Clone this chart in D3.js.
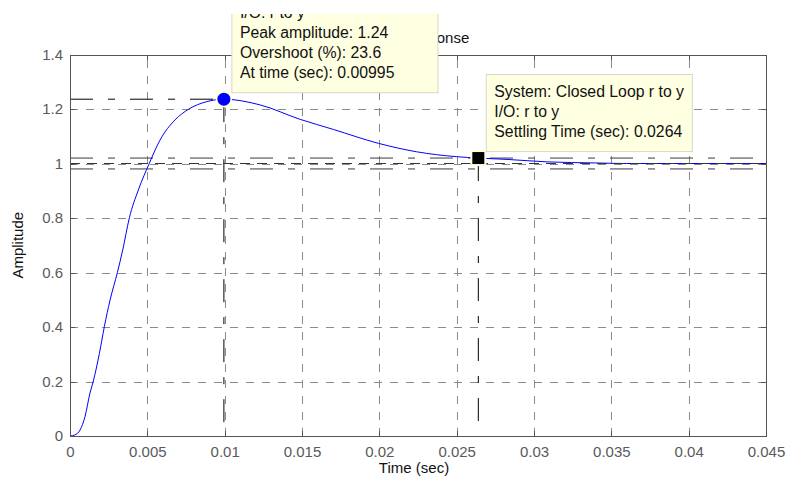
<!DOCTYPE html>
<html>
<head>
<meta charset="utf-8">
<script src="https://cdn.jsdelivr.net/npm/d3@7"></script>
<style>
  html, body { margin: 0; padding: 0; background: #fff; }
  svg { display: block; font-family: "Liberation Sans", Arial, Helvetica, sans-serif; }
</style>
</head>
<body>
<svg id="chart" width="789" height="478"></svg>
<script>
// Axis ticks
const timeTicks = [0, 0.005, 0.01, 0.015, 0.02, 0.025, 0.03, 0.035, 0.04, 0.045];
const ampTicks = [0, 0.2, 0.4, 0.6, 0.8, 1, 1.2, 1.4];

// Closed-loop step response samples
const respTime = [0, 0.00032, 0.00065, 0.00097, 0.00129, 0.00151, 0.0019, 0.00222, 0.00259,
  0.00306, 0.00341, 0.00384, 0.00442, 0.00513, 0.00582, 0.00679, 0.00766, 0.00884, 0.00995,
  0.01229, 0.01488, 0.01703, 0.01994, 0.02241, 0.025, 0.0264, 0.02826, 0.03085, 0.034, 0.036,
  0.04, 0.045];
const respAmp = [0, 0.004, 0.022, 0.071, 0.157, 0.202, 0.303, 0.401, 0.499,
  0.599, 0.683, 0.801, 0.903, 1.001, 1.086, 1.16, 1.199, 1.227, 1.236,
  1.215, 1.162, 1.125, 1.074, 1.043, 1.025, 1.02, 1.015, 1.006, 1.002, 1.0,
  1.0, 1.0];

// Response characteristics
const peakTime = 0.00995;
const peakAmp = 1.236;
const overshootPct = 23.6;
const settleTime = 0.0264;
const settleAmp = 1.02;
const finalValue = 1;
const settleBand = [0.98, 1.02];
const systemName = "Closed Loop r to y";
const ioName = "r to y";

const svg = d3.select("#chart");
const W = 789, H = 478;
const x = d3.scaleLinear().domain([0, 0.045]).range([70, 766]);
const y = d3.scaleLinear().domain([0, 1.4]).range([436, 54.5]);
const [x0, x1] = x.range();
const [y0, y1] = y.range();

svg.append("defs").append("clipPath").attr("id", "figclip")
  .append("rect").attr("x", 0).attr("y", 14).attr("width", W).attr("height", H - 14);
svg.append("defs").append("clipPath").attr("id", "plotclip")
  .append("rect").attr("x", x0).attr("y", y1).attr("width", x1 - x0).attr("height", y0 - y1);

const root = svg.append("g").attr("clip-path", "url(#figclip)");
root.append("rect").attr("width", W).attr("height", H).attr("fill", "#fff");

// Grid
const grid = root.append("g").attr("class", "grid");
grid.append("g").attr("transform", `translate(0,${y0})`)
  .call(d3.axisBottom(x).tickValues(timeTicks.slice(1, -1)).tickSize(-(y0 - y1)).tickFormat(""))
  .call(g => g.select(".domain").remove());
grid.append("g").attr("transform", `translate(${x0},0)`)
  .call(d3.axisLeft(y).tickValues(ampTicks.slice(1, -1)).tickSize(-(x1 - x0)).tickFormat(""))
  .call(g => g.select(".domain").remove());
grid.selectAll("line").attr("stroke", "#8a8a8a").attr("stroke-width", 1)
  .attr("stroke-dasharray", "8,8").attr("shape-rendering", "crispEdges");

// Characteristic lines
const plot = root.append("g").attr("clip-path", "url(#plotclip)");
const dashDot = "23,15,7,15";
settleBand.forEach(v => {
  plot.append("line").attr("x1", x0).attr("x2", x1).attr("y1", y(v)).attr("y2", y(v))
    .attr("stroke", "#3a3a3a").attr("stroke-width", 1).attr("stroke-dasharray", dashDot);
});
plot.append("line").attr("x1", x0).attr("x2", x(peakTime)).attr("y1", y(peakAmp)).attr("y2", y(peakAmp))
  .attr("stroke", "#000").attr("stroke-width", 1).attr("stroke-dasharray", dashDot);
plot.append("line").attr("x1", x(peakTime)).attr("x2", x(peakTime)).attr("y1", y(peakAmp)).attr("y2", y0)
  .attr("stroke", "#000").attr("stroke-width", 1).attr("stroke-dasharray", dashDot);
plot.append("line").attr("x1", x(settleTime)).attr("x2", x(settleTime)).attr("y1", y(settleAmp)).attr("y2", y0)
  .attr("stroke", "#000").attr("stroke-width", 1).attr("stroke-dasharray", dashDot);

// Response curve
const pts = respTime.map((t, i) => [t, respAmp[i]]);
plot.append("path").datum(pts)
  .attr("fill", "none").attr("stroke", "#0000ff").attr("stroke-width", 1)
  .attr("d", d3.line().x(d => x(d[0])).y(d => y(d[1])).curve(d3.curveMonotoneX));

// Steady-state line
plot.append("line").attr("x1", x0).attr("x2", x1).attr("y1", y(finalValue)).attr("y2", y(finalValue))
  .attr("stroke", "#333344").attr("stroke-width", 1).attr("stroke-dasharray", "10,7");

// Axes box and ticks
const axisColor = "#555";
const fontSize = 15;
const fmt = d => d3.format("~g")(d);
const axB = root.append("g").attr("transform", `translate(0,${y0})`)
  .call(d3.axisBottom(x).tickValues(timeTicks).tickSizeInner(-5).tickSizeOuter(0).tickPadding(10).tickFormat(fmt));
const axL = root.append("g").attr("transform", `translate(${x0},0)`)
  .call(d3.axisLeft(y).tickValues(ampTicks).tickSizeInner(-5).tickSizeOuter(0).tickPadding(7).tickFormat(fmt));
const axT = root.append("g").attr("transform", `translate(0,${y1})`)
  .call(d3.axisTop(x).tickValues(timeTicks).tickSizeInner(-5).tickSizeOuter(0).tickFormat(""));
const axR = root.append("g").attr("transform", `translate(${x1},0)`)
  .call(d3.axisRight(y).tickValues(ampTicks).tickSizeInner(-5).tickSizeOuter(0).tickFormat(""));
[axB, axL, axT, axR].forEach(a => {
  a.selectAll(".domain").attr("stroke", axisColor).attr("shape-rendering", "crispEdges");
  a.selectAll(".tick line").attr("stroke", axisColor).attr("shape-rendering", "crispEdges");
  a.selectAll(".tick text").attr("fill", "#5a5a5a").style("font-size", fontSize + "px")
    .style("font-family", '"Liberation Sans", Arial, sans-serif');
});

// Titles
root.append("text").attr("x", (x0 + x1) / 2).attr("y", 43).attr("text-anchor", "middle")
  .attr("fill", "#111").style("font-size", fontSize + "px").text("Step Response");
root.append("text").attr("x", (x0 + x1) / 2 - 4).attr("y", 473).attr("text-anchor", "middle")
  .attr("fill", "#111").style("font-size", fontSize + "px").text("Time (sec)");
root.append("text").attr("transform", `translate(23,${(y0 + y1) / 2}) rotate(-90)`)
  .attr("text-anchor", "middle").attr("fill", "#111").style("font-size", fontSize + "px").text("Amplitude");

// Markers
function halo(px, py, s) {
  root.append("rect").attr("x", px - s / 2).attr("y", py - s / 2).attr("width", s).attr("height", s)
    .attr("fill", "#ffffe1");
}
halo(x(peakTime), y(peakAmp), 16);
root.append("circle").attr("cx", x(peakTime)).attr("cy", y(peakAmp)).attr("r", 6.5).attr("fill", "#0000ff");
halo(x(settleTime), y(settleAmp), 16);
root.append("rect").attr("x", x(settleTime) - 6).attr("y", y(settleAmp) - 6)
  .attr("width", 12).attr("height", 12).attr("fill", "#000");

// Data tips
function dataTip(px, py, lines) {
  const g = root.append("g");
  const box = g.append("rect");
  const left = px + 7.5, bottom = py - 7;
  const n = lines.length;
  const texts = g.selectAll("text").data(lines).join("text")
    .attr("x", left + 8.5)
    .attr("y", (d, i) => bottom - 14 - (n - 1 - i) * 20)
    .attr("fill", "#111").style("font-size", "15.8px").text(d => d);
  let w = 0;
  texts.each(function () { w = Math.max(w, this.getComputedTextLength()); });
  const h = n * 20 + 17;
  box.attr("x", left + 0.5).attr("y", bottom - h + 0.5).attr("width", Math.round(w + 16)).attr("height", h)
    .attr("fill", "#ffffe1").attr("stroke", "#d8d8c8").attr("stroke-width", 1);
}
dataTip(x(peakTime), y(peakAmp), [
  "System: " + systemName,
  "I/O: " + ioName,
  "Peak amplitude: " + d3.format(".3~g")(peakAmp),
  "Overshoot (%): " + overshootPct,
  "At time (sec): " + peakTime
]);
dataTip(x(settleTime), y(settleAmp), [
  "System: " + systemName,
  "I/O: " + ioName,
  "Settling Time (sec): " + settleTime
]);
</script>
</body>
</html>
